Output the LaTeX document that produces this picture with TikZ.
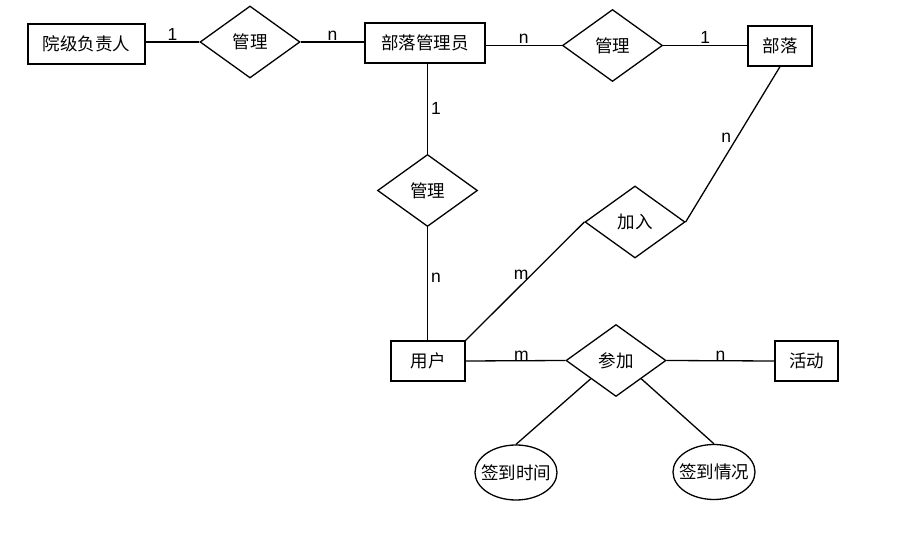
\documentclass[tikz,border=0pt]{standalone}
\usepackage{fontspec}
\setmainfont{Noto Sans CJK SC}
\newfontfamily\labfont{Liberation Sans}
\usetikzlibrary{shapes.geometric,calc}
\begin{document}
\begin{tikzpicture}[x=1pt,y=-1pt,
  ent/.style={draw,line width=1.3pt,rectangle,minimum height=40pt,inner sep=0pt,font=\fontsize{17.5}{20}\selectfont},
  rel/.style={draw,line width=1.3pt,diamond,minimum width=100pt,minimum height=72pt,inner sep=0pt,font=\fontsize{17.5}{20}\selectfont},
  attr/.style={draw,line width=1.3pt,ellipse,minimum width=82pt,minimum height=55pt,inner sep=0pt,font=\fontsize{17.5}{20}\selectfont},
  conn/.style={line width=1.3pt},
  card/.style={font=\labfont\fontsize{17.5}{20}\selectfont,inner sep=1pt}]
\useasboundingbox (0,0) rectangle (908,534);
\node[ent,minimum width=117pt] (yj) at (86.5,44) {院级负责人};
\node[rel] (g1) at (250,42) {管理};
\node[ent,minimum width=120pt] (blg) at (425,43) {部落管理员};
\node[rel] (g2) at (612.5,45.5) {管理};
\node[ent,minimum width=64pt] (bl) at (780,46) {部落};
\node[rel] (g3) at (427.5,190.5) {管理};
\node[rel] (jr) at (635,222) {加入};
\node[ent,minimum width=74pt] (yh) at (428,361) {用户};
\node[rel] (cj) at (616,360.5) {参加};
\node[ent,minimum width=63pt] (hd) at (806.5,361) {活动};
\node[attr] (t1) at (516,472.5) {\makebox[0pt]{签到时间}};
\node[attr] (t2) at (714,472) {\makebox[0pt]{签到情况}};
\draw[conn] (yj.east |- g1.west) -- node[card,above]{1} (g1.west);
\draw[conn] (g1.east) -- node[card,above]{n} (g1.east -| blg.west);
\draw[conn] (blg.east |- g2.west) -- node[card,above]{n} (g2.west);
\draw[conn] (g2.east) -- node[card,above]{1} (g2.east -| bl.west);
\draw[conn] (g3.north |- blg.south) -- node[card,right,inner sep=3pt]{1} (g3.north);
\draw[conn] (g3.south) -- node[card,right,inner sep=3pt,pos=0.45]{n} (g3.south |- yh.north);
\draw[conn] (yh.north east) -- node[card,above left,xshift=5pt]{m} (jr.west);
\draw[conn] (jr.east) -- node[card,above left]{n} (bl.south);
\draw[conn] (yh.east) -- node[card,above,inner sep=0pt,xshift=6pt]{m} (cj.west);
\draw[conn] (cj.east) -- node[card,above,inner sep=0pt]{n} (hd.west);
\draw[conn] ($(cj.west)!0.5!(cj.south)$) -- (t1.north);
\draw[conn] ($(cj.east)!0.5!(cj.south)$) -- (t2.north);
\end{tikzpicture}
\end{document}
